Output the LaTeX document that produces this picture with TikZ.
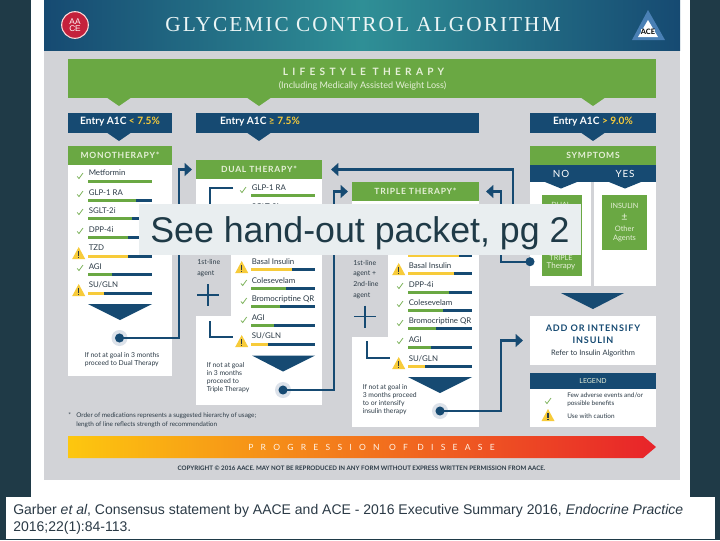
\documentclass[tikz,border=0pt]{standalone}
\usepackage{fontspec}
\setmainfont{Lato}
\newfontfamily\titlefont[LetterSpace=9.5]{Liberation Serif}
\newfontfamily\headfont[LetterSpace=9]{Lato}
\newfontfamily\widefont[LetterSpace=42]{Lato}
\newfontfamily\slidefont{Liberation Sans}
\usetikzlibrary{arrows.meta}
\definecolor{slidebg}{HTML}{1F3A47}
\definecolor{panelgrey}{HTML}{D2D3D7}
\definecolor{algoblue}{HTML}{164A72}
\definecolor{algogreen}{HTML}{6AA843}
\definecolor{algoyellow}{HTML}{F7CB3A}
\definecolor{paletext}{HTML}{E6F0D8}
\definecolor{inktext}{HTML}{2B3A46}
\definecolor{halo}{HTML}{DCE2EA}
\definecolor{overlaygrey}{HTML}{E9EEF0}
\definecolor{headteal}{HTML}{2F8F96}
\definecolor{progyellow}{HTML}{FDC70F}
\definecolor{progorange}{HTML}{F68A1E}
\definecolor{progred}{HTML}{E8232A}
\definecolor{logored}{HTML}{C4213C}
\definecolor{logoblue}{HTML}{4A80B5}
\begin{document}
\begin{tikzpicture}[x=0.75pt,y=-0.75pt,
box/.style={rectangle,inner sep=0,outer sep=0},
green head/.style={box,fill=algogreen,text=paletext,minimum height=14.25pt,font=\headfont\bfseries\fontsize{6.4}{8}\selectfont},
blue head/.style={box,fill=algoblue,text=white,minimum height=15pt},
entry text/.style={inner sep=0,text=white,font=\bfseries\fontsize{7.6}{9}\selectfont},
drug/.style={anchor=west,inner sep=0,text=inktext,font=\fontsize{5.9}{7}\selectfont},
note/.style={anchor=west,inner sep=0,align=left,text=inktext,font=\fontsize{5.1}{6}\selectfont},
pale/.style={inner sep=0,text=paletext,font=\fontsize{5.4}{7}\selectfont},
barblue/.style={draw=algoblue,line width=2.25pt},
bargreen/.style={draw=algogreen,line width=2.25pt},
baryellow/.style={draw=algoyellow,line width=2.25pt},
flow/.style={draw=algoblue,line width=1.6pt,-{Triangle[length=5.5pt,width=9.5pt]}},
brack/.style={draw=algoblue,line width=1.2pt},
dot halo/.style={circle,fill=halo,minimum size=12pt,inner sep=0},
dot/.style={circle,fill=algoblue,minimum size=6.8pt,inner sep=0},
big tip/.style={fill=algoblue},
checkmark/.pic={\draw[algogreen!85!white,line width=0.6pt] (-2.8,0.5) -- (-1,2.5) -- (3,-3);},
warnmark/.pic={\fill[algoyellow] (0,-6) -- (6.5,6) -- (-6.5,6) -- cycle;
\draw[inktext,line width=0.9pt] (0,-2) -- (0,2.5) (0,3.5) -- (0,4.8);}]

\useasboundingbox (0,0) rectangle (720,540);
\fill[slidebg] (0,0) rectangle (720,540);
\fill[white] (31,0) rectangle (690,497);
\fill[panelgrey] (44,50) rectangle (680,479.5);

% header
\shade[left color=algoblue,right color=algoblue,middle color=headteal] (44,0) rectangle (680,50);
\node[text=white!92!teal,inner sep=0,font=\titlefont\fontsize{16}{18}\selectfont] (title) at (363,25) {GLYCEMIC CONTROL ALGORITHM};
\node[circle,fill=logored,draw=white!85!red,line width=0.8pt,minimum size=20pt,inner sep=0,align=center,text=white,font=\slidefont\fontsize{6.2}{5.6}\selectfont] (aace) at (75,25) {AA\\CE};
\fill[logoblue] (648,10) -- (665,40) -- (632,40) -- cycle;
\fill[white] (648,20) -- (658,37) -- (638,37) -- cycle;
\node[box,fill=white,text=black,font=\fontsize{5.6}{7}\selectfont\bfseries] (ace) at (648,32) {ACE};

% lifestyle
\node[green head,minimum width=441pt,minimum height=29.25pt] (lifestyle) at (362,78.5) {};
\node[inner sep=0,text=paletext,font=\widefont\bfseries\fontsize{7.6}{9}\selectfont] (lifetitle) at (363.5,72) {LIFESTYLE THERAPY};
\node[pale,font=\fontsize{6.8}{8}\selectfont] (lifesub) at (362.5,85.5) {(Including Medically Assisted Weight Loss)};
\fill[algogreen] (106,97) -- (132,97) -- (119,106) -- cycle;
\fill[algogreen] (246,97) -- (272,97) -- (259,106) -- cycle;
\fill[algogreen] (580,97) -- (606,97) -- (593,106) -- cycle;

% entry boxes
\node[blue head,minimum width=78pt] (entryA) at (120,123) {};
\node[blue head,minimum width=212.25pt] (entryB) at (337.5,123) {};
\node[blue head,minimum width=94.5pt] (entryC) at (593,123) {};
\node[entry text] (entryAtext) at (120,122) {Entry A1C \textcolor{algoyellow}{< 7.5\%}};
\node[entry text] (entryBtext) at (260,122) {Entry A1C \textcolor{algoyellow}{≥ 7.5\%}};
\node[entry text] (entryCtext) at (593,122) {Entry A1C \textcolor{algoyellow}{> 9.0\%}};
\fill[algoblue] (106,132) -- (132,132) -- (119,141) -- cycle;
\fill[algoblue] (246,132) -- (272,132) -- (259,141) -- cycle;
\fill[algoblue] (580,132) -- (606,132) -- (593,141) -- cycle;

% monotherapy
\fill[white] (68,165) rectangle (172,376);
\node[green head,minimum width=78pt] (monohead) at (120,155.5) {MONOTHERAPY*};
\node[drug] (m1) at (88.5,173) {Metformin};
\draw[bargreen] (88,181) -- (152,181);
\pic at (80,176) {checkmark};
\node[drug] (m2) at (88.5,193) {GLP-1 RA};
\draw[barblue] (88,200) -- (152,200);
\draw[bargreen] (88,200) -- (136,200);
\pic at (80,194) {checkmark};
\node[drug] (m3) at (88.5,211) {SGLT-2i};
\draw[barblue] (88,218.5) -- (152,218.5);
\draw[bargreen] (88,218.5) -- (132,218.5);
\pic at (80,212) {checkmark};
\node[drug] (m4) at (88.5,230) {DPP-4i};
\draw[barblue] (88,237) -- (152,237);
\draw[bargreen] (88,237) -- (128,237);
\pic at (80,231) {checkmark};
\node[drug] (m5) at (88.5,248) {TZD};
\draw[barblue] (88,256) -- (152,256);
\draw[baryellow] (88,256) -- (128,256);
\pic at (78.7,253) {warnmark};
\node[drug] (m6) at (88.5,267) {AGI};
\draw[barblue] (88,274) -- (152,274);
\draw[bargreen] (88,274) -- (112,274);
\pic at (80,268) {checkmark};
\node[drug] (m7) at (88.5,285) {SU/GLN};
\draw[barblue] (88,293) -- (152,293);
\draw[baryellow] (88,293) -- (104,293);
\pic at (78.7,290) {warnmark};
\fill[big tip] (88,304) -- (152,304) -- (120,320) -- cycle;
\node[note] (mononote) at (84.5,360) {If not at goal in 3 months\\proceed to Dual Therapy};

% dual therapy
\fill[white] (196,179) rectangle (322,405);
\fill[panelgrey] (196,220) rectangle (231,316);
\node[green head,minimum width=94.5pt] (dualhead) at (259,169.5) {DUAL THERAPY*};
\coordinate (dualbrackA) at (233,188);
\coordinate (dualbrackB) at (210,220);
\coordinate (dualbrackC) at (210,321);
\coordinate (dualbrackD) at (233,337);
\draw[brack] (dualbrackA) -| (dualbrackB);
\draw[brack] (dualbrackC) |- (dualbrackD);
\node[drug] (d1) at (251.5,188) {GLP-1 RA};
\draw[bargreen] (251,195.5) -- (315,195.5);
\pic at (243,190) {checkmark};
\node[drug] (d2) at (251.5,207) {SGLT-2i};
\node[drug] (d3) at (251.5,262) {Basal Insulin};
\draw[barblue] (251,269.5) -- (315,269.5);
\draw[baryellow] (251,269.5) -- (292,269.5);
\pic at (241.7,267) {warnmark};
\node[drug] (d4) at (251.5,281) {Colesevelam};
\draw[barblue] (251,288) -- (315,288);
\draw[bargreen] (251,288) -- (286,288);
\pic at (243.7,283) {checkmark};
\node[drug] (d5) at (251.5,299) {Bromocriptine QR};
\draw[barblue] (251,306.5) -- (315,306.5);
\draw[bargreen] (251,306.5) -- (280,306.5);
\pic at (243.7,301) {checkmark};
\node[drug] (d6) at (251.5,318) {AGI};
\draw[barblue] (251,325) -- (315,325);
\draw[bargreen] (251,325) -- (274,325);
\pic at (243.7,320) {checkmark};
\node[drug] (d7) at (251.5,336) {SU/GLN};
\draw[barblue] (251,344) -- (315,344);
\draw[baryellow] (251,344) -- (268,344);
\pic at (241.7,341) {warnmark};
\fill[big tip] (252,355.5) -- (315,355.5) -- (283,371.5) -- cycle;
\node[note,font=\fontsize{5.2}{8.4}\selectfont] (dualside) at (197,268) {1st-line\\agent};
\draw[algoblue,line width=1.1pt] (197,295) -- (219,295) (208,284) -- (208,306);
\node[note] (dualnote) at (206.5,377.5) {If not at goal\\in 3 months\\proceed to\\Triple Therapy};

% triple therapy
\fill[white] (352,201) rectangle (479,427);
\fill[panelgrey] (352,240) rectangle (388,337);
\node[green head,minimum width=95.25pt] (triplehead) at (415.5,191.5) {TRIPLE THERAPY*};
\coordinate (triplebrackA) at (367,341);
\coordinate (triplebrackB) at (390,358);
\draw[brack] (triplebrackA) |- (triplebrackB);
\draw[barblue] (408,255) -- (472,255);
\draw[baryellow] (408,255) -- (459,255);
\node[drug] (t1) at (408.5,266) {Basal Insulin};
\draw[barblue] (408,273) -- (472,273);
\draw[baryellow] (408,273) -- (454,273);
\pic at (398.7,269) {warnmark};
\node[drug] (t2) at (408.5,285) {DPP-4i};
\draw[barblue] (408,292) -- (472,292);
\draw[bargreen] (408,292) -- (449,292);
\pic at (400,286) {checkmark};
\node[drug] (t3) at (408.5,303) {Colesevelam};
\draw[barblue] (408,310) -- (472,310);
\draw[bargreen] (408,310) -- (443,310);
\pic at (400,304) {checkmark};
\node[drug] (t4) at (408.5,321) {Bromocriptine QR};
\draw[barblue] (408,328.5) -- (472,328.5);
\draw[bargreen] (408,328.5) -- (436,328.5);
\pic at (400,323) {checkmark};
\node[drug] (t5) at (408.5,340) {AGI};
\draw[barblue] (408,347.5) -- (472,347.5);
\draw[bargreen] (408,347.5) -- (431,347.5);
\pic at (400,341) {checkmark};
\node[drug] (t6) at (408.5,359) {SU/GLN};
\draw[barblue] (408,366.5) -- (472,366.5);
\draw[baryellow] (408,366.5) -- (425,366.5);
\pic at (398.7,363) {warnmark};
\fill[big tip] (408,377) -- (472,377) -- (440,393) -- cycle;
\node[note,font=\fontsize{5.2}{8.2}\selectfont] (tripleside) at (353,279.5) {1st-line\\agent +\\2nd-line\\agent};
\draw[algoblue,line width=1.1pt] (354,316.5) -- (376,316.5) (365,305.5) -- (365,327.5);
\node[note] (triplenote) at (362.5,400) {If not at goal in\\3 months proceed\\to or intensify\\insulin therapy};

% symptoms
\node[green head,minimum width=94.5pt] (symphead) at (593,155.5) {SYMPTOMS};
\fill[white] (530,182) rectangle (591,286);
\fill[white] (594,182) rectangle (656,286);
\fill[algoblue] (530,165) rectangle (656,182);
\fill[algoblue] (545,182) -- (577,182) -- (561,188.5) -- cycle;
\fill[algoblue] (609,182) -- (641,182) -- (625,188.5) -- cycle;
\node[inner sep=0,text=white,font=\headfont\fontsize{7.4}{9}\selectfont] (sympno) at (561,173.5) {NO};
\node[inner sep=0,text=white,font=\headfont\fontsize{7.4}{9}\selectfont] (sympyes) at (625,173.5) {YES};
\node[box,fill=algogreen,minimum width=30pt,minimum height=60.75pt] (noboxgreen) at (561.5,235.5) {};
\node[box,fill=algogreen,minimum width=33.75pt,minimum height=41.25pt] (yesboxgreen) at (624.5,222.5) {};
\node[pale] (nodual) at (561,204.5) {DUAL};
\node[pale] (notriple) at (561,257.5) {TRIPLE};
\node[pale,font=\fontsize{6}{7}\selectfont] (notherapy) at (561,266.5) {Therapy};
\node[pale] (yesinsulin) at (624.5,206) {INSULIN};
\node[pale,font=\fontsize{8}{9}\selectfont] (yespm) at (624.5,217.5) {±};
\node[pale,font=\fontsize{5.6}{7}\selectfont] (yesother) at (624.5,228.5) {Other};
\node[pale,font=\fontsize{5.6}{7}\selectfont] (yesagents) at (624.5,238) {Agents};
\fill[big tip] (561,293) -- (624,293) -- (593,309) -- cycle;

% add or intensify
\node[box,fill=white,minimum width=94.5pt,minimum height=36.75pt] (addbox) at (593,340.5) {};
\node[inner sep=0,text=algoblue,font=\headfont\bfseries\fontsize{6.8}{8}\selectfont] (addone) at (593,328) {ADD OR INTENSIFY};
\node[inner sep=0,text=algoblue,font=\headfont\bfseries\fontsize{6.8}{8}\selectfont] (addtwo) at (593,340) {INSULIN};
\node[inner sep=0,text=inktext,font=\fontsize{5.6}{7}\selectfont] (addthree) at (593,353) {Refer to Insulin Algorithm};

% legend
\fill[white] (530,389) rectangle (656,427);
\node[box,fill=algoblue,minimum width=94.5pt,minimum height=12pt,text=paletext,font=\fontsize{5.2}{7}\selectfont] (legendhead) at (593,381) {LEGEND};
\pic at (548,401) {checkmark};
\pic at (548,415) {warnmark};
\node[note,font=\fontsize{4.8}{6}\selectfont] (legendone) at (567,400) {Few adverse events and/or\\possible benefits};
\node[note,font=\fontsize{4.8}{6}\selectfont] (legendtwo) at (567,416.5) {Use with caution};

% connectors
\node[dot halo] (dotmono) at (119.5,338) {};
\node[dot halo] (dotdual) at (283,390) {};
\node[dot halo] (dottriple) at (440,411) {};
\coordinate (monobend) at (179,169.5);
\coordinate (dualbend) at (334,191.5);
\coordinate (triplebend) at (501,340.5);
\coordinate (nobend) at (501,191.5);
\coordinate (noupper) at (530,235);
\coordinate (upperbend) at (513,169.5);
\node[dot] (dotno) at (530,261.7) {};
\draw[flow,shorten >=3pt] (dotmono.center) -| (monobend) -- (dualhead.west);
\draw[flow,shorten >=3pt] (dotdual.center) -| (dualbend) -- (triplehead.west);
\draw[flow,shorten >=5.25pt] (dottriple.center) -| (triplebend) -- (addbox.west);
\draw[flow,shorten >=5.25pt] (dotno.center) -| (nobend) -- (triplehead.east);
\draw[flow,shorten >=6.75pt] (noupper) -| (upperbend) -- (dualhead.east);
\node[dot] (dotmonoin) at (dotmono) {};
\node[dot] (dotdualin) at (dotdual) {};
\node[dot] (dottriplein) at (dottriple) {};

% progression
\shade[left color=progyellow,middle color=progorange,right color=progred] (68,436) -- (643,436) -- (656,447) -- (643,458) -- (68,458) -- cycle;
\node[inner sep=0,text=white!90!orange,font=\fontsize{6.4}{8}\selectfont] (progress) at (371.5,447) {\addfontfeature{LetterSpace=85}PROGRESSION OF DISEASE};
\node[inner sep=0,text=inktext,font=\fontsize{4.63}{6}\selectfont\bfseries] (copyright) at (361.5,468) {COPYRIGHT © 2016 AACE. MAY NOT BE REPRODUCED IN ANY FORM WITHOUT EXPRESS WRITTEN PERMISSION FROM AACE.};
\node[note,font=\fontsize{4.8}{6.75}\selectfont] (footstar) at (68,415.5) {*};
\node[note,font=\fontsize{4.8}{6.75}\selectfont] (footnote) at (76,420.5) {Order of medications represents a suggested hierarchy of usage;\\length of line reflects strength of recommendation};

% slide overlay and reference
\node[box,fill=overlaygrey,minimum width=331.5pt,minimum height=38.25pt,text height=20pt,text depth=0pt,text=slidebg,font=\slidefont\fontsize{26.8}{30}\selectfont] (handout) at (360,229.5) {See hand-out packet, pg 2};
\node[box,fill=white,minimum width=531.75pt,minimum height=31.5pt] (citebox) at (360.5,518) {};
\node[inner sep=0,anchor=west,align=left,text=inktext,font=\slidefont\fontsize{10.5}{12.75}\selectfont] (citation) at (13,519.5) {Garber \textit{et al}, Consensus statement by AACE and ACE - 2016 Executive Summary 2016, \textit{Endocrine Practice}\\2016;22(1):84-113.};
\end{tikzpicture}
\end{document}
